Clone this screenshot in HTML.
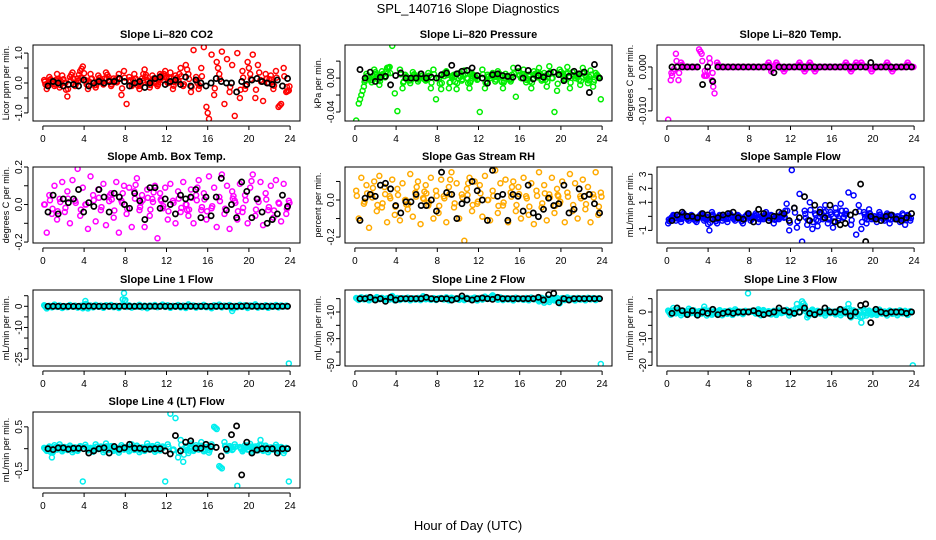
<!DOCTYPE html>
<html><head><meta charset="utf-8"><style>
html,body{margin:0;padding:0;background:#fff}
svg{display:block;font-family:"Liberation Sans",Arial,sans-serif}
</style></head><body>
<svg id="chart" width="936" height="540" viewBox="0 0 936 540">
<text x="468" y="13" text-anchor="middle" font-size="13">SPL_140716  Slope Diagnostics</text>
<text x="468" y="530" text-anchor="middle" font-size="13">Hour of Day (UTC)</text>
</svg>
<script>
const xTicks=[0,4,8,12,16,20,24];
const co2Vals=[0.1,-0.2,0.2,0.05,-0.1,0.3,-0.15,0.25,0.0,-0.45,0.2,0.35,-0.1,0.15,0.4,0.55,0.1,-0.2,0.3,0.0,-0.15,0.25,0.1,-0.05,0.35,0.2,-0.1,0.15,0.05,0.3,-0.4,0.4,-0.7,0.2,-0.1,0.3,0.0,-0.2,0.15,0.45,0.1,-0.15,0.25,0.05,-0.1,0.3,0.2,0.4,0.0,0.35,-0.2,0.25,0.1,0.5,-0.1,0.6,0.3,-0.3,1.1,0.2,-0.2,0.5,1.2,-0.8,-1.2,0.95,-0.4,0.7,0.3,1.05,-0.7,0.8,-0.3,0.6,-1.1,1.0,-0.5,0.4,-0.2,0.7,0.3,0.95,-0.5,0.6,0.1,-0.6,0.3,0.0,0.25,-0.2,0.4,-0.8,-0.7,0.5,-0.3,-0.25];
const co2Black=[-0.1,0.05,0.0,-0.1,-0.05,-0.05,-0.1,0.1,-0.1,0.0,0.05,0.0,0.05,0.05,0.15,0.05,-0.1,0.0,0.05,-0.15,0.0,0.15,0.2,-0.05,0.05,0.1,-0.05,0.2,-0.1,0.1,0.0,-0.1,0.0,0.15,0.05,0.0,0.0,-0.3,0.05,-0.05,0.1,0.15,0.05,0.0,-0.05,0.1,-0.1,0.15];
const co2Ticks=[-1,-0.5,0,0.5,1];
const co2TickLabels=["-1.0","","0.0","","1.0"];
const presVals=[-0.05,-0.03,-0.02,-0.01,0.005,0.0,-0.005,0.01,0.004,-0.008,0.008,0.002,0.012,0.013,0.038,-0.018,-0.039,0.01,-0.012,0.004,0.0,-0.006,0.007,0.002,-0.004,0.005,0.0,-0.003,0.006,-0.012,0.01,-0.025,0.0,-0.013,0.005,0.008,-0.012,0.002,0.004,-0.013,0.006,-0.003,0.009,0.0,-0.012,0.005,0.003,-0.002,-0.04,0.01,-0.012,0.004,0.0,0.006,-0.004,0.008,0.003,-0.012,0.005,0.0,-0.004,0.012,-0.022,0.008,0.0,0.01,-0.005,0.004,-0.012,0.008,0.002,0.012,-0.003,0.006,-0.01,0.014,0.0,-0.04,-0.015,0.01,0.005,-0.002,0.013,-0.012,0.007,0.0,0.004,-0.008,0.012,0.003,-0.006,0.009,-0.01,0.006,0.002,-0.025];
const presBlack=[0.01,0.0,0.007,-0.004,0.001,0.002,-0.008,0.003,0.006,0.0,0.0,0.0,0.005,0.0,0.001,0.0,0.004,0.006,0.015,0.005,0.008,0.009,0.012,0.003,0.0,-0.006,0.004,0.005,0.003,0.002,0.001,0.012,0.0,0.009,-0.001,0.003,0.001,0.005,0.007,0.004,-0.003,0.002,0.008,0.005,0.007,-0.017,0.016,0.0];
const presTicks=[-0.04,-0.02,0,0.02];
const presTickLabels=["-0.04","","0.00",""];
const tempVals=[-0.012,-0.003,-0.001,0.003,-0.003,0.001,0.0,0.0,0.0,0.0,0.0,0.0,0.004,0.003,-0.002,-0.002,0.002,-0.003,-0.006,0.001,0,0,0,0,0,0,0,0,0,0,0,0,0,0,0,0,0,0,0,0.001,-0.001,0,0.001,0,0,-0.001,0,0,0,0,0,0.001,0,-0.001,0,0.001,0,-0.001,0,0,0,0,0,0,0,0,0,0,0,0.001,0,-0.001,0,0.001,0,0.001,0,0,0,-0.001,0,0,0,0,0,0.001,0,-0.001,0,0,0,0,0,0.001,0,0];
const tempBlack=[0,0,0,0,0,0,-0.004,0,-0.0033,0,0,0,0,0,0,0,0,0,0,0,-0.0013,0,0,0,0,0,0,0,0,0,0,0,0,0,0,0,0,0,0,0.001,0,0,0,0,0,0,0,0];
const tempTicks=[-0.01,-0.005,0];
const tempTickLabels=["-0.010","","0.000"];
const ambVals=[0.0,-0.15,0.05,-0.05,0.1,-0.08,0.03,0.12,-0.04,0.07,-0.1,0.13,0.02,0.19,-0.06,0.09,0.0,-0.13,0.15,0.05,-0.09,0.08,-0.03,0.11,-0.11,0.04,0.06,-0.07,0.12,-0.15,0.02,0.1,-0.05,0.09,-0.12,0.07,0.14,-0.03,0.05,-0.12,0.08,-0.06,0.03,0.1,-0.18,0.06,-0.02,0.09,-0.08,0.11,0.02,-0.1,0.07,-0.04,0.12,0.0,-0.06,0.08,-0.1,0.05,0.13,-0.03,0.06,-0.08,0.15,-0.02,0.09,-0.12,0.04,0.16,-0.05,0.1,-0.13,0.07,0.02,-0.08,0.11,-0.04,0.05,-0.1,0.09,0.16,-0.06,0.03,0.12,-0.11,0.06,-0.03,0.1,-0.07,0.13,0.01,-0.09,0.11,-0.05,0.02];
const ambBlack=[-0.04,0.05,-0.05,0.03,0.01,0.03,0.08,-0.04,0.01,-0.01,0.08,0.04,-0.04,0.06,0.04,0.0,-0.02,0.06,0.02,-0.08,0.09,0.09,-0.02,0.03,0.0,-0.05,0.05,0.03,0.04,0.08,-0.07,0.04,-0.06,0.04,0.14,-0.03,0.0,-0.07,0.12,0.07,-0.07,0.03,-0.04,-0.1,-0.08,-0.05,0.05,-0.01];
const ambTicks=[-0.2,-0.1,0,0.1,0.2];
const ambTickLabels=["-0.2","","0.0","","0.2"];
const rhVals=[0.05,-0.1,0.12,-0.02,0.08,-0.15,0.03,0.1,-0.06,0.13,-0.04,0.07,-0.12,0.02,0.11,-0.08,0.06,-0.11,0.09,0.0,-0.05,0.14,-0.09,0.04,0.1,-0.13,0.01,0.08,-0.03,0.12,-0.1,0.05,-0.07,0.11,0.02,-0.12,0.07,0.15,-0.04,0.09,-0.1,0.03,-0.22,0.06,0.12,-0.06,0.1,-0.02,0.08,-0.09,0.13,0.0,-0.11,0.05,0.16,-0.07,0.09,-0.03,0.11,-0.12,0.04,0.1,-0.06,0.07,-0.1,0.12,0.02,-0.08,0.09,-0.13,0.05,0.15,-0.04,0.08,-0.11,0.03,0.12,-0.07,0.06,-0.02,0.1,-0.12,0.04,0.14,-0.06,0.09,-0.1,0.02,0.11,-0.05,0.07,-0.12,0.03,0.15,-0.08,0.04];
const rhBlack=[-0.11,0.01,0.03,0.02,0.08,0.09,0.06,-0.03,-0.07,-0.01,-0.01,0.03,-0.03,-0.03,0.0,-0.06,0.15,0.04,0.03,-0.1,-0.02,0.0,0.1,0.05,0.0,-0.11,0.16,0.02,0.03,-0.11,0.03,0.02,-0.06,0.08,-0.07,-0.09,-0.05,0.01,-0.03,-0.02,0.08,-0.07,-0.05,0.06,0.02,0.03,-0.02,-0.07];
const rhTicks=[-0.2,-0.1,0,0.1];
const rhTickLabels=["-0.2","","0.0",""];
const sfVals=[-0.5,-0.2,0.1,-0.3,0.0,-0.4,0.2,-0.1,-0.3,0.1,-0.2,-0.4,0.0,0.2,-0.3,-0.1,-1.0,0.3,-0.2,-0.5,0.1,-0.3,0.0,-0.4,0.2,-0.1,-0.3,0.1,-0.2,-0.5,0.0,0.2,-0.3,-0.1,0.2,-0.4,0.0,-0.2,0.3,-0.3,0.1,-0.5,0.0,-0.2,0.2,-0.1,0.9,-1.0,3.3,0.6,-0.8,1.6,-1.8,0.4,-0.6,1.0,-0.9,0.2,-0.7,0.5,-0.2,0.8,-0.5,0.3,-0.8,0.6,-0.3,0.9,-0.1,0.4,1.7,-0.6,1.5,-1.3,0.8,-0.9,0.3,-0.5,0.5,-0.2,0.0,-0.4,0.3,-0.1,-0.3,0.2,-0.5,0.1,-0.2,0.0,-0.4,0.2,-0.6,0.1,-0.3,1.4];
const sfBlack=[-0.3,0.1,0.3,0.0,0.0,-0.1,0.2,0.1,-0.2,-0.1,0.1,0.2,0.3,-0.1,-0.2,0.2,-0.4,0.5,0.2,-0.3,0.0,0.3,0.2,-0.3,0.6,-0.1,1.4,-0.3,0.8,0.3,-0.1,0.8,-0.4,-0.6,-0.5,0.1,0.3,2.3,-1.8,0.0,-0.2,-0.3,0.0,0.1,-0.2,-0.3,-0.1,0.2];
const sfTicks=[-1,0,1,2,3];
const sfTickLabels=["-1","","1","2","3"];
const l1Vals=[0.5,-1,0.2,-0.5,0.8,-0.3,0.4,-0.8,0.1,-0.4,0.6,-0.2,0.3,-0.6,0.2,-0.9,2.5,-1,0.4,-0.5,0.7,-0.2,0.3,-0.7,0.5,-0.1,0.6,-0.4,0.2,-0.8,0.4,6.2,-0.3,0.5,-0.6,0.2,-0.2,0.7,-0.5,0.3,-0.9,0.4,-0.1,0.6,-0.4,0.1,0.8,-0.3,0.5,-0.7,0.2,-0.2,0.6,-0.5,0.3,-0.8,0.9,-0.1,0.4,-0.6,0.2,-0.3,0.7,-0.4,0.1,-0.9,0.5,-0.2,0.8,-0.5,0.3,-0.1,0.6,-2.2,0.2,-0.4,0.7,-0.3,0.5,-0.8,0.4,-0.1,0.9,-0.6,0.2,-0.3,0.5,-0.7,0.3,-0.2,0.6,-0.5,0.4,-0.1,0.3,-27];
const l1Black=[0,0,0,0,0,0,0,0,0.1,0,0,0,0,0,0,0,0,0,0,0,0,0,0,0,0,0,0,0,0,0,0,0,0,0,0,0,0,0,0,0.2,0,0,0,0,0,0,0,0];
const l1Ticks=[-25,-20,-15,-10,-5,0,5];
const l1TickLabels=["-25","","","-10","","0",""];
const l2Vals=[0.5,-1,1,-0.5,0.8,-1.2,0.4,-0.8,1.2,-0.4,0.6,-1,0.3,-0.6,2,-1.3,0.5,-1,0.4,-0.5,0.7,-1.2,0.3,-0.7,0.5,-1.1,1.8,-0.4,0.2,-0.8,0.4,-1,0.3,0.5,-0.6,1,-1.2,0.7,-0.5,0.3,-0.9,0.4,-1.1,0.6,-0.4,0.1,0.8,-1.3,0.5,-0.7,1.5,-0.2,0.6,2.5,0.3,-0.8,0.9,-1.1,0.4,-0.6,0.2,-1.3,0.7,-0.4,0.1,-0.9,0.5,-1.2,0.8,-0.5,0.3,-2,0.6,-3,0.2,-2.5,0.7,-1.3,0.5,-3.5,0.4,-1.1,0.9,-0.6,0.2,-1.3,0.5,-0.7,0.3,-1.2,0.6,-0.5,0.4,-1.1,0.3,-49];
const l2Black=[0,0,1,-1,0,-2,1,-1,0,0,0,0,0,1,0,-0.5,0,0,-1,0,2,0,-1,0,0.5,0,-0.5,1,0,0,0,0,0,0,0,1,-1,3,4,-3,0,-1,0,0,0,0,0,0];
const l2Ticks=[-50,-40,-30,-20,-10,0];
const l2TickLabels=["-50","","-30","","-10",""];
const l3Vals=[0.5,-1,1.5,-0.5,0.8,-1.2,0.4,-0.8,1.2,-0.4,0.6,-1,0.3,-0.6,2,-1.3,0.5,-1,0.4,-0.5,0.7,-1.2,0.3,-0.7,0.5,-1.1,1,-0.4,0.2,-0.8,0.4,7,0.3,0.5,-0.6,1,-1.2,0.7,-0.5,0.3,-0.9,0.4,-1.1,0.6,-0.4,0.1,0.8,-1.3,0.5,-0.7,3,-0.2,4,2.5,-2,-0.8,0.9,-1.1,0.4,-0.6,0.2,-1.3,0.7,-0.4,0.1,-0.9,0.5,-1.2,0.8,-0.5,3,-2,0.6,-1.5,0.2,-4,0.7,-1.3,0.5,-1,0.4,-1.1,0.9,-0.6,0.2,-1.3,0.5,-0.7,0.3,-1.2,0.6,-0.5,0.4,-1.1,0.3,-20];
const l3Black=[-0.5,1.5,0.5,-1,0.5,-1.2,0,-0.5,1,-1,-0.5,0,-0.5,0,0,0,0.5,-0.5,-1,-0.5,0,1.5,0.5,0,-0.5,0,1.5,-0.5,-1,0,1.5,0,0,1,0,-1.5,0,2.5,3,-4,1,0,-0.5,0,0,0,-0.5,0];
const l3Ticks=[-20,-15,-10,-5,0,5];
const l3TickLabels=["-20","","-10","","0",""];
const l4Vals=[0.02,-0.05,0.05,-0.2,0.08,-0.02,0.1,-0.06,0.04,-0.03,0.07,-0.08,0.03,-0.05,0.06,-0.75,0.09,-0.04,0.02,-0.07,0.1,-0.01,0.05,-0.08,0.12,-0.03,0.06,-0.05,0.02,-0.09,0.08,-0.02,0.04,-0.06,0.1,-0.03,0.07,-0.08,0.03,-0.05,0.12,-0.02,0.06,-0.07,0.09,-0.04,0.05,-0.75,0.1,0.8,-0.04,0.7,-0.2,0.2,-0.3,0.05,-0.1,0.12,-0.05,0.08,-0.02,0.15,-0.06,0.04,-0.09,0.1,0.5,0.45,-0.4,-0.45,0.15,-0.05,0.06,-0.03,0.1,-0.85,0.04,-0.06,0.08,-0.02,0.11,-0.07,0.05,-0.04,0.2,-0.05,0.07,-0.08,0.03,-0.02,0.09,-0.06,0.04,-0.1,0.02,-0.75];
const l4Black=[0,-0.02,0.02,0.02,-0.01,0.01,0.01,0.0,-0.1,-0.05,0,0.02,-0.1,0.05,-0.01,0.02,0.1,0.01,0.01,-0.01,-0.01,0,0.0,-0.05,-0.12,0.3,-0.05,0.15,0.18,0.01,0.01,0.1,0.05,0.03,-0.17,-0.01,0.32,0.52,-0.6,0.15,-0.1,-0.03,0,0,0,-0.1,0,0];
const l4Ticks=[-0.5,0,0.5];
const l4TickLabels=["-0.5","","0.5"];

const svg=document.getElementById('chart');
const NS='http://www.w3.org/2000/svg';
const colX=[33,345,657], rowY=[45,167,290,412], PW=267, PH=76;
function mk(tag,attrs,parent){const e=document.createElementNS(NS,tag);for(const k in attrs)e.setAttribute(k,attrs[k]);parent.appendChild(e);return e;}

function panel(key,col,row,title,ylab,ymin,ymax,ticks,tickLabels,color,vals,black){
  const L=colX[col],T=rowY[row],R=L+PW,B=T+PH;
  const g=mk('g',{},svg);
  
  
  const xs=h=>L+(h+0.96)/25.92*PW;
  const ys=v=>B-(v-ymin)/(ymax-ymin)*PH;
  const t=mk('text',{x:(L+R)/2,y:T-7,'text-anchor':'middle','font-size':11,'font-weight':'bold'},g);
  t.textContent=title;
  
  
  const yl=mk('text',{x:0,y:0,'text-anchor':'middle','font-size':9,transform:`translate(${L-24},${(T+B)/2}) rotate(-90)`},g);
  yl.textContent=ylab;
  
  
  const xa=mk('g',{},g);
  
  
  mk('line',{x1:xs(0),x2:xs(24),y1:B+5,y2:B+5,stroke:'#000','stroke-width':1},xa);
  xTicks.forEach(h=>{
    mk('line',{x1:xs(h),x2:xs(h),y1:B+5,y2:B+9,stroke:'#000'},xa);
    const tl=mk('text',{x:xs(h),y:B+21,'text-anchor':'middle','font-size':10},xa);
    tl.textContent=h;
    
    
  });
  const ya=mk('g',{},g);
  
  
  mk('line',{x1:L-5,x2:L-5,y1:ys(ticks[0]),y2:ys(ticks[ticks.length-1]),stroke:'#000'},ya);
  ticks.forEach((v,i)=>{
    mk('line',{x1:L-9,x2:L-5,y1:ys(v),y2:ys(v),stroke:'#000'},ya);
    if(tickLabels[i]){
      const tl=mk('text',{x:0,y:0,'text-anchor':'middle','font-size':10,transform:`translate(${L-11},${ys(v)}) rotate(-90)`},ya);
      tl.textContent=tickLabels[i];
      
      
    }
  });
  const cp='cp'+key;
  const d=mk('defs',{},g);const c=mk('clipPath',{id:cp},d);mk('rect',{x:L,y:T,width:PW,height:PH},c);
  const pts=mk('g',{'clip-path':`url(#${cp})`},g);
  
  
  const step=24/vals.length;
  const lim=(ymax-ymin)*0.2;
  vals.forEach((v,i)=>{
    const h=(i+0.5)*step;
    const p=mk('circle',{cx:xs(h),cy:ys(v),r:2.5,fill:'none',stroke:color,'stroke-width':1.5},pts);
    
    
    if(i<vals.length-1){
      const nv=vals[i+1];
      if(Math.abs(nv-v)<lim){
        const p2=mk('circle',{cx:xs(h+step/2),cy:ys((v+nv)/2),r:2.5,fill:'none',stroke:color,'stroke-width':1.5},pts);
        
        
      }
    }
    if(Math.abs(v)<lim){
      const p3=mk('circle',{cx:xs(h+step*0.25),cy:ys(v*0.45),r:2.5,fill:'none',stroke:color,'stroke-width':1.5},pts);
      
      
    }
  });
  black.forEach((v,i)=>{
    const h=(i+1)*24/(black.length+0.5);
    const p=mk('circle',{cx:xs(h),cy:ys(v),r:2.6,fill:'none',stroke:'#000','stroke-width':1.7},pts);
    
    
  });
  const box=mk('rect',{x:L,y:T,width:PW,height:PH,fill:'none',stroke:'#000','stroke-width':1},g);
  
  
}
panel('co2',0,0,'Slope Li\u2013820 CO2','Licor ppm per min.',-1.27,1.27,co2Ticks,co2TickLabels,'#ff0000',co2Vals,co2Black);
panel('pressure',1,0,'Slope Li\u2013820 Pressure','kPa per min.',-0.0506,0.039,presTicks,presTickLabels,'#00ee00',presVals,presBlack);
panel('temp',2,0,'Slope Li\u2013820 Temp.','degrees C per min.',-0.0123,0.005,tempTicks,tempTickLabels,'#ff00ff',tempVals,tempBlack);
panel('ambbox',0,1,'Slope Amb. Box Temp.','degrees C per min.',-0.205,0.2,ambTicks,ambTickLabels,'#ff00ff',ambVals,ambBlack);
panel('rh',1,1,'Slope Gas Stream RH','percent per min.',-0.232,0.178,rhTicks,rhTickLabels,'#ffaa00',rhVals,rhBlack);
panel('sampleflow',2,1,'Slope Sample Flow','mL/min per min.',-1.9,3.52,sfTicks,sfTickLabels,'#0000ff',sfVals,sfBlack);
panel('line1',0,2,'Slope Line 1 Flow','mL/min per min.',-28.2,7.7,l1Ticks,l1TickLabels,'#00eeee',l1Vals,l1Black);
panel('line2',1,2,'Slope Line 2 Flow','mL/min per min.',-50.5,6.5,l2Ticks,l2TickLabels,'#00eeee',l2Vals,l2Black);
panel('line3',2,2,'Slope Line 3 Flow','mL/min per min.',-20.25,8.25,l3Ticks,l3TickLabels,'#00eeee',l3Vals,l3Black);
panel('line4',0,3,'Slope Line 4 (LT) Flow','mL/min per min.',-0.9,0.84,l4Ticks,l4TickLabels,'#00eeee',l4Vals,l4Black);
</script>
</body></html>
